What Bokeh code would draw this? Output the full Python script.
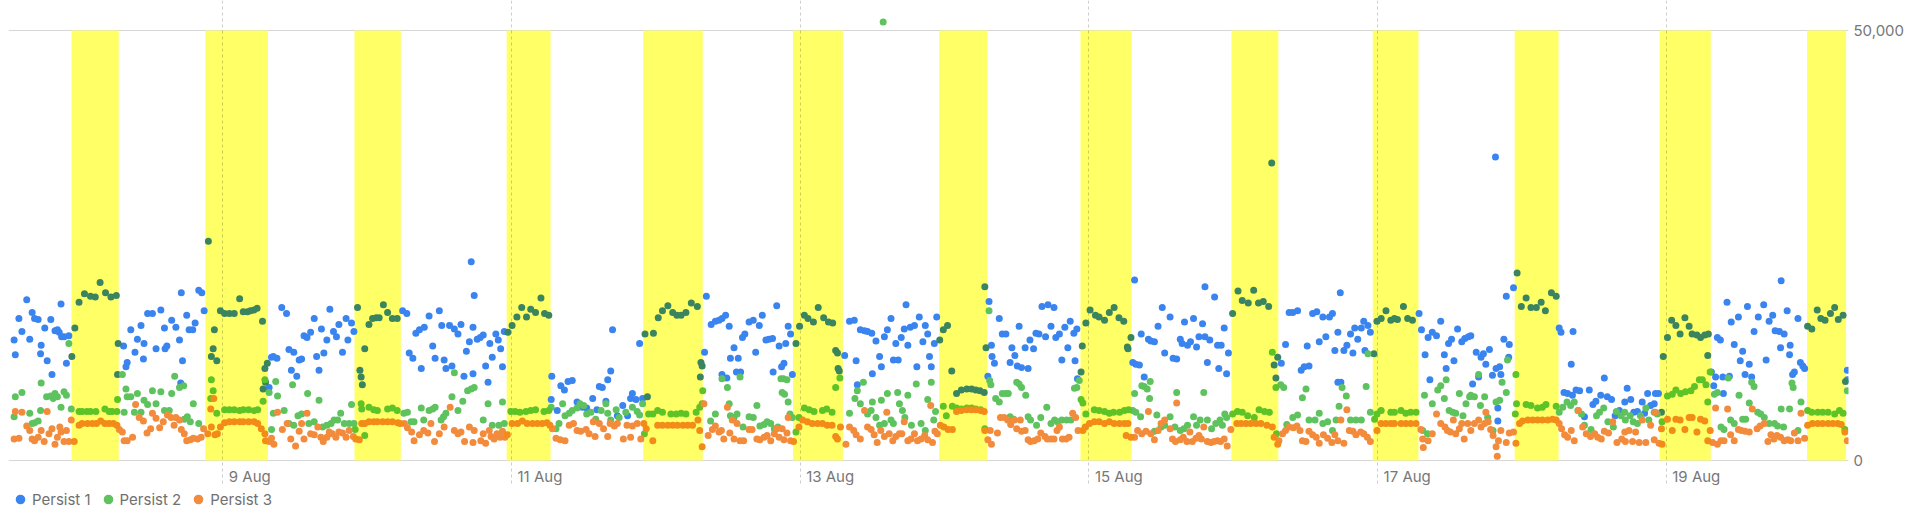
import pandas as pd
from bokeh.plotting import figure
from bokeh.models import Range1d, FixedTicker, NumeralTickFormatter, Legend, LegendItem
from bokeh.core.properties import value
from bokeh.embed import file_html
from bokeh.resources import INLINE

# ---------------- data ----------------
first_reading = "2024-08-07 13:12"   # time of the first sample
window_hours = 305.1                   # time span from first sample to right edge, hours

series_names = ["Persist 1", "Persist 2", "Persist 3"]
series_colors = ["#3a84f0", "#5ec35e", "#f28b3c"]
band_color = "#ffff66"

band_starts = ["2024-08-07 22:51", "2024-08-08 21:06", "2024-08-09 21:54", "2024-08-10 23:12",
               "2024-08-11 21:54", "2024-08-12 22:48", "2024-08-13 23:06", "2024-08-14 22:36",
               "2024-08-15 23:42", "2024-08-16 23:12", "2024-08-17 22:48", "2024-08-18 22:54",
               "2024-08-19 23:24"]
band_ends = ["2024-08-08 06:42", "2024-08-09 07:30", "2024-08-10 05:36", "2024-08-11 06:30",
             "2024-08-12 07:48", "2024-08-13 07:06", "2024-08-14 07:06", "2024-08-15 07:06",
             "2024-08-16 07:30", "2024-08-17 06:48", "2024-08-18 06:06", "2024-08-19 07:24",
             "2024-08-20 05:54"]

tick_dates = ["2024-08-09", "2024-08-11", "2024-08-13", "2024-08-15", "2024-08-17", "2024-08-19"]
tick_labels = ["9 Aug", "11 Aug", "13 Aug", "15 Aug", "17 Aug", "19 Aug"]
y_ticks = [0, 50000]

# (hours since first sample, value)
persist1 = [
(0.1,14000),(0.3,12300),(0.9,16500),(1.4,15000),(2.2,18700),(2.7,14100),(3.1,17200),(3.5,16500),(4.1,16400),(4.5,12400),(4.6,13400),(5.2,15400),(5.6,11600),(6.2,16400),(6.4,10000),(6.9,15100),(7.3,15200),(7.6,14900),(7.9,18200),(8.0,14400),(8.4,14400),(8.8,11300),(9.2,14500),(9.7,12100),(10.2,15400),(10.9,18400),(11.8,19400),(12.8,19100),(13.6,19000),(14.4,20700),(15.3,19500),(16.2,19000),(17.1,19200),(17.3,10000),(17.4,13600),
(18.3,13300),(18.7,10900),(18.9,11400),(19.5,15200),(20.2,12600),(20.6,14100),(21.2,15700),(21.6,11800),(21.7,13600),(22.3,17100),(23.1,17100),(23.7,13000),(24.5,17500),(25.1,15400),(25.2,13000),(25.5,13300),(26.3,16300),(27.0,15500),(27.6,14000),(27.8,9000),(27.9,19500),(28.1,11600),(28.8,16900),(29.2,15200),(29.8,15200),(30.2,16000),(30.8,19800),(31.3,19500),(31.7,17400),
(32.4,25500),(32.9,12100),(33.2,13000),(33.4,15200),(33.8,11600),(34.4,17400),(35.1,17100),(35.9,17100),(36.7,17100),(37.6,18800),(38.2,17300),(38.9,17300),(39.4,17400),(40.0,17500),(40.5,17700),(41.4,16200),(41.5,8300),(41.8,10700),(41.9,9100),(42.2,11300),
(42.5,8500),(42.9,12000),(43.2,12100),(43.8,11900),(44.6,17800),(45.4,17100),(45.8,12900),(46.2,10500),(46.6,12600),(47.1,9800),(47.5,11700),(47.9,11800),(48.3,14500),(48.8,14300),(49.4,14900),(50.0,16500),(50.4,12100),(50.8,10500),(51.2,15300),(51.6,12500),(52.1,14000),(52.6,17600),(53.2,15000),(53.7,14400),(54.1,15800),(54.7,12600),(55.3,16500),(55.6,14000),(56.2,16000),(56.6,15000),
(57.2,17800),(57.6,10500),(57.8,9700),(58.0,8800),(58.4,13000),(59.1,15800),(59.7,16500),(60.3,16600),(60.8,16600),(61.5,18100),(62.2,17200),(63.0,16500),(63.8,16500),
(64.7,17400),(65.4,17100),(65.8,12500),(66.4,11900),(66.9,14800),(67.5,15200),(67.8,10700),(68.3,15500),(69.1,16800),(69.7,13300),(70.1,11900),(70.8,17400),(71.2,15700),(71.6,11700),(71.9,10700),(72.5,15700),(72.9,11000),(73.3,15300),(73.9,14700),(74.4,15800),(74.9,9800),(75.3,12700),(75.8,13800),(76.1,23100),(76.4,15500),(76.4,10100),(76.6,19200),
(77.1,14100),(77.6,14300),(78.1,14600),(78.5,11000),(78.9,9100),(79.2,13600),(79.6,12000),(80.2,14700),(80.6,14000),(81.0,13000),(81.3,10900),(81.6,15000),
(82.2,14900),(82.9,15700),(83.7,16700),(84.5,17800),(85.3,16700),(86.0,17600),(86.8,17200),(87.7,18900),(88.3,17100),(89.0,16900),
(89.4,7100),(89.5,9800),(90.4,5800),(91.0,8700),(91.6,8200),(92.2,9200),(92.9,9300),(93.7,6800),(94.6,6200),(95.3,6100),(96.3,7200),(97.0,5900),(97.4,8600),(97.9,8500),(98.5,6900),(98.8,9400),(99.3,10400),(99.6,15200),(100.4,5200),(101.3,6400),(102.1,5200),(102.6,7200),(102.9,7800),(103.5,7100),(104.1,13600),(104.6,7200),
(105.0,14700),(105.4,7400),(106.4,14800),(107.2,16600),(107.9,17400),(108.8,18000),(109.6,17200),(110.3,16900),(111.0,16900),(111.8,17200),(112.7,18300),(113.7,17900),(114.2,9700),(114.3,11400),(114.5,11000),
(114.9,12600),(115.2,19100),(116.0,15800),(116.7,16200),(117.3,16300),(117.8,16500),(117.8,10000),(118.4,16900),(118.6,9600),(119.0,15600),(119.2,11900),(119.8,13100),(120.2,10300),(120.5,11900),(120.9,10300),(121.2,14300),(121.6,14700),(122.3,16100),(123.0,16300),(123.4,12600),(124.0,15700),(124.5,16900),(125.1,14000),(125.6,14100),(126.2,14200),(126.3,10300),(126.9,18000),(127.3,13300),(127.7,10900),(128.1,11300),(128.4,13600),(128.8,15600),(129.2,14700),(129.5,10000),
(130.1,13600),(130.7,15600),(131.5,16900),(132.1,16500),(133.0,16100),(133.8,17800),(134.7,16600),(135.5,16100),(136.2,16000),(136.7,12800),(137.0,12500),(137.1,10700),(137.3,10400),
(138.2,12200),(139.0,16200),(139.8,16300),(140.1,11600),(140.3,8800),(140.8,15200),(141.5,15100),(142.0,15000),(142.7,14800),(142.8,10100),(143.4,13900),(144.0,12100),(144.3,10900),(144.8,14400),(145.3,15200),(145.9,16500),(146.3,11700),(146.7,13600),(147.1,11700),(147.6,14300),(148.1,15300),(148.4,18100),(148.7,13400),(149.1,15500),(149.8,15700),(150.2,10900),(150.6,16700),(151.2,13800),(151.6,15700),(152.0,14700),(152.3,12100),(152.6,10900),(153.1,13600),(153.5,16700),
(154.0,14000),(154.6,15200),(155.3,15700),(156.0,10400),(156.8,7800),(157.6,8200),(158.5,8300),(159.3,8300),(160.0,8200),(160.7,8100),(161.4,7900),(161.5,20200),(161.7,13100),
(162.0,9800),(162.2,18500),(162.6,13400),(162.7,12100),(163.1,11300),(163.9,16500),(164.4,14700),(165.0,14700),(165.7,11400),(166.0,13100),(166.5,12200),(166.9,11000),(167.2,15600),(167.6,10800),(168.2,13100),(168.7,10700),(169.0,14000),(169.6,13000),(170.0,14800),(170.5,14700),(171.0,17900),(171.6,14400),(172.0,18100),(172.5,15600),(173.0,17800),(173.3,14300),(173.9,14700),(174.3,11700),(174.8,15500),(175.3,13100),(175.7,16200),(176.3,14800),(176.5,11600),(176.8,15300),(176.9,9500),
(177.5,10300),(177.7,13300),(178.3,16000),(179.0,17500),(179.9,16900),(180.5,16700),(181.4,16300),(182.2,17200),(183.0,17800),(183.8,16600),(184.6,16200),(185.2,13200),(185.3,13000),(185.8,14300),
(186.1,11400),(186.4,21000),(186.6,11200),(187.2,11100),(187.5,14700),(188.0,9700),(188.7,14100),(189.1,13900),(189.7,13800),(190.3,15600),(191.0,17800),(191.4,12500),(192.3,16700),(192.8,11900),(193.4,11800),(194.0,14100),(194.3,13600),(194.7,16100),(195.2,13400),(195.7,13800),(196.2,16500),(196.7,13200),(197.1,14400),(197.7,15900),(198.1,20200),(198.1,14400),(198.5,11400),(198.9,14000),(199.7,19000),(200.2,13400),(200.4,10700),(200.8,13400),(201.3,15400),(201.7,10100),(202.0,12500),
(202.7,17100),(203.6,19700),(204.3,18600),(205.3,18300),(206.2,19800),(207.0,18300),(207.8,18500),(208.7,17900),(209.2,34600),(209.6,11100),(209.9,9600),(210.2,12000),
(210.8,11300),(211.5,13500),(212.1,17200),(212.7,17200),(213.5,17400),(214.1,10500),(214.6,10900),(215.1,13300),(215.4,11000),(216.0,17100),(216.7,17300),(217.1,13800),(217.7,16700),(218.2,14400),(218.8,16700),(219.3,17100),(219.7,12800),(220.2,14900),(220.2,9100),(220.6,19500),(220.7,9100),(221.2,12800),(221.7,13400),(222.3,14700),(222.7,12500),(223.0,15400),(223.5,14100),(224.1,15400),(224.5,16200),(224.7,12800),(225.2,15700),(225.6,14900),
(226.2,12400),(226.7,16200),(227.4,16500),(228.2,17400),(229.0,16300),(229.6,16500),(230.1,16400),(231.1,17900),(231.8,16500),(232.6,16300),
(233.7,17100),(234.1,15200),(234.7,12300),(235.2,14300),(235.5,9400),(235.9,14900),(236.6,14500),(237.3,16200),(237.9,12300),(238.2,10700),(238.6,13600),(239.1,14100),(239.5,11600),(240.1,15300),(240.8,13800),(241.3,14200),(241.9,14400),(242.3,14500),(242.6,8900),(243.2,12600),(243.6,9700),(244.0,12000),(244.4,12400),(244.8,11200),(245.4,12900),(245.9,9900),(246.4,35300),(246.5,10700),(246.8,6100),(246.8,4600),(247.1,10900),(247.3,10000),(247.8,14100),(248.2,19100),(248.6,12000),(248.7,13500),(249.4,20100),
(250.0,21800),(250.7,17900),(251.5,18900),(252.3,17800),(253.2,17800),(254.0,18400),(254.7,17400),(255.7,19500),(256.5,19100),
(257.0,15400),(257.3,14900),(257.8,7900),(258.4,7800),(259.0,11200),(259.2,7600),(259.3,15000),(259.8,8200),(260.4,8100),(261.2,5100),(262.0,8200),(262.6,6500),(263.1,6900),(263.9,7600),(264.5,9600),(265.0,7400),(265.7,7100),(266.3,5200),(267.0,5800),(267.9,6800),(268.3,8400),(268.9,7100),(269.4,5600),(270.0,5700),(270.8,6800),(271.2,5500),(271.7,7800),(272.2,6400),(272.8,6600),(273.0,7800),(273.5,7800),
(274.0,5600),(274.3,12100),(275.0,14300),(275.7,16300),(276.4,15700),(277.1,14700),(277.9,16600),(278.6,15600),(279.1,14700),(279.9,14600),(280.5,14300),(281.2,14600),(281.7,12200),(281.8,14700),
(282.3,10300),(282.7,8700),(283.0,9700),(283.3,14300),(283.8,14000),(284.2,9700),(284.3,7800),(284.9,18400),(285.3,9800),(285.6,16100),(286.1,13500),(286.8,16700),(287.1,11600),(287.5,12700),(287.9,10000),(288.3,17900),(288.6,11200),(289.0,9700),(289.4,15000),(290.1,16700),(291.0,18100),(291.4,11700),(291.9,16200),(292.5,16900),(292.9,15100),(293.6,15000),(293.8,13100),(293.9,20900),(294.4,14700),(294.9,17400),(295.3,12300),(295.4,13400),(295.8,10000),(296.1,10300),(296.7,16500),(297.1,11400),(297.5,11000),(297.8,10700),
(298.3,15600),(299.0,15300),(299.9,17500),(300.5,16500),(301.2,16300),(302.1,17100),(302.8,17800),(303.4,16400),(304.2,16900),(304.6,9200),(304.9,9400),(304.9,10500),
]

persist2 = [
(0.1,5100),(0.3,7400),(1.4,7900),(2.7,5500),(3.1,4300),(3.5,4400),(4.1,4600),(4.5,5800),(4.6,9000),(5.5,7400),(6.2,7500),(6.6,7200),(6.9,7800),(7.3,7400),(7.9,6200),(8.4,8000),(8.8,7600),(9.2,13600),(9.6,6000),
(10.9,5700),(11.4,5700),(12.2,5700),(12.8,5700),(13.7,5700),(15.2,6000),(15.9,5700),(16.4,5700),(17.2,5700),(17.3,7100),
(18.1,10000),(18.4,5600),(18.7,8300),(18.9,7400),(19.5,7400),(20.1,5600),(20.6,7800),(21.2,5600),(21.7,7000),(22.3,6500),(23.1,8100),(23.7,6600),(24.5,8000),(25.1,5800),(25.9,5800),(26.3,7800),(26.8,9800),(27.6,8500),(28.3,8700),(28.4,4800),(28.9,5100),(29.4,4500),(29.9,6600),(30.8,4300),
(32.8,7200),(32.9,9400),(33.2,8100),(33.8,5500),(35.1,5900),(35.9,5900),(36.7,5900),(37.6,5800),(38.2,5900),(39.1,5900),(40.0,5800),(40.6,5900),(41.5,6900),(41.8,9400),
(42.5,7900),(42.9,3600),(43.2,5500),(43.6,9200),(43.9,7500),(45.0,5800),(45.8,4300),(46.4,8800),(46.6,4100),(47.3,5200),(47.9,5400),(48.9,7800),(49.1,4300),(50.0,4500),(50.8,7000),(51.4,3900),(52.1,4100),(52.8,4300),(53.3,4700),(53.9,4700),(54.4,5500),(55.0,4300),(55.8,4300),(56.2,6500),(56.6,4300),
(56.8,3600),(57.8,6600),(57.9,6000),(58.4,2900),(59.1,6200),(59.9,5900),(60.5,5800),(62.2,6000),(63.0,6100),(63.8,5800),
(64.9,5500),(65.5,5600),(66.1,4500),(66.6,4500),(67.8,6100),(68.2,4700),(69.1,5800),(69.7,6000),(70.1,6200),(71.1,4700),(71.5,5100),(71.9,5500),(72.9,7400),(73.3,10200),(73.9,5800),(74.7,6900),(75.5,8100),(76.1,8300),(76.6,8500),
(78.1,4700),(78.9,6600),(79.6,4100),(80.7,4100),(81.3,6800),(81.6,4300),
(82.7,5700),(83.4,5700),(84.2,5600),(85.2,5700),(86.0,5800),(86.8,5900),(88.2,5700),(89.0,5800),
(89.4,6200),(90.2,3700),(90.7,4300),(91.3,6600),(91.7,5200),(92.4,5500),(92.9,5800),(93.7,6100),(94.2,6600),(94.8,6400),(95.3,5400),(96.0,5600),(96.8,4800),(97.7,5800),(98.5,6600),(98.8,5500),(99.3,4700),(100.2,5900),(100.7,5000),(101.8,5600),(102.9,6200),(103.7,5700),(104.1,5300),(104.6,6600),
(104.9,3100),(105.6,5400),(106.3,5400),(107.1,5800),(107.9,5600),(109.3,5400),(110.2,5400),(111.0,5500),(111.8,5400),(113.5,5600),(114.1,6200),(114.5,6600),(114.6,8100),
(115.9,4600),(116.7,5400),(117.8,9500),(118.7,8500),(119.0,6600),(119.2,5200),(119.8,5000),(120.3,5400),(120.8,9700),(121.3,3900),(122.3,5100),(123.0,5000),(123.6,6400),(124.1,4000),(124.8,4200),(125.3,4500),(125.9,4300),(126.5,3700),(127.1,3900),(127.6,9500),(127.8,7900),(128.0,9500),(128.2,7700),(128.6,9400),(128.8,6800),(129.1,5400),(129.5,5000),
(130.1,3300),(130.6,5000),(131.5,6100),(132.3,5900),(133.1,5700),(134.5,5800),(135.2,6000),(136.1,5600),(136.7,8500),(137.4,9600),
(139.0,5500),(139.9,7200),(140.3,8100),(140.8,6600),(141.3,9100),(142.0,5400),(142.6,5800),(142.8,6800),(143.4,5000),(144.0,4100),(144.3,7000),(144.6,51000),(144.8,4300),(145.3,7800),(145.9,4700),(146.3,4300),(147.0,7900),(147.3,6600),(147.8,5800),(148.2,5000),(148.7,7600),(149.3,4100),(150.1,8900),(150.9,4300),(151.6,3500),(152.0,7100),(152.6,9100),(153.0,4700),(153.3,5700),
(154.6,6300),(155.1,5200),(156.1,6300),(156.8,6100),(157.6,6000),(158.5,6100),(159.3,6100),(160.0,6000),(160.8,5900),(161.5,3700),
(162.2,17400),(162.3,9300),(162.5,8800),(163.3,7200),(163.9,6800),(164.4,7800),(165.0,7800),(165.4,7800),(165.7,5100),(166.3,4800),(166.8,9100),(167.2,8900),(167.6,8500),(168.3,7600),(168.7,5100),(169.1,4700),(170.1,4100),(170.8,5000),(171.8,6200),(172.5,4300),(173.1,4700),(173.6,4500),(174.3,4700),(175.1,4700),(175.8,4700),(176.4,8400),(176.8,8500),(177.2,9300),
(177.5,7100),(177.8,6700),(178.3,5400),(179.7,5900),(180.5,5800),(181.4,5700),(182.2,5500),(182.9,5600),(183.9,5600),(184.7,5800),(185.4,5900),
(186.1,5800),(186.4,7800),(186.6,5600),(187.4,5100),(187.6,8700),(188.0,8600),(188.5,8300),(188.9,7200),(189.0,9200),(189.7,3400),(190.1,5300),(190.8,3900),(191.4,4100),(192.3,5100),(193.1,3900),(193.4,7900),(194.0,3500),(194.6,3700),(195.2,4100),(196.2,5100),(196.7,4100),(197.3,4700),(197.9,7900),(198.5,4700),(199.2,3700),(199.9,4300),(200.6,4700),(201.0,4100),(201.4,5400),(201.7,5000),
(202.7,5400),(203.5,5700),(204.3,5600),(205.2,5200),(206.3,5000),(207.1,5900),(208.0,5700),(208.8,5600),(209.3,12600),(209.9,8500),(210.0,3100),
(210.7,8800),(211.2,8500),(211.7,4200),(212.7,5000),(213.5,5300),(214.3,7300),(214.9,8300),(215.4,4700),(216.4,4700),(217.1,5500),(217.7,4300),(218.5,4500),(219.3,3500),(219.9,4700),(220.4,6300),(220.9,8500),(221.6,7500),(222.3,4700),(223.2,4700),(224.1,4700),(224.9,8600),(225.2,12400),(225.6,5600),
(226.3,4800),(226.7,5400),(227.4,5800),(229.0,5600),(229.6,5600),(230.7,5800),(231.5,5500),(232.3,5600),(233.2,5600),
(234.3,3500),(234.6,7600),(235.1,3100),(235.9,6600),(236.8,8200),(237.3,8700),(237.9,7200),(238.2,9400),(238.7,5800),(239.3,5600),(239.8,5500),(240.4,7800),(241.0,5200),(241.5,6600),(242.1,7400),(242.3,7600),(242.9,7400),(243.6,10000),(243.9,6400),(244.6,7400),(245.1,5000),(246.0,3500),(246.5,6800),(247.1,7000),(247.5,9100),(248.2,7900),(248.4,11700),
(249.7,5400),(249.8,10000),(249.9,6600),(251.5,6500),(252.3,6400),(253.4,6100),(254.2,6200),(254.8,6500),(256.5,6300),
(257.0,5600),(257.6,6200),(258.3,6800),(258.9,6400),(259.5,6800),(260.1,5800),(260.7,5400),(261.2,4100),(262.3,3600),(263.2,5200),(263.7,5600),(264.4,6100),(265.1,4500),(266.0,3900),(266.5,5700),(267.3,5200),(267.9,5600),(268.0,4700),(268.8,5200),(269.3,4500),(270.0,4300),(270.5,5200),(271.4,6100),(271.9,4700),(272.8,5600),(273.3,5400),
(274.1,4500),(275.0,7500),(275.8,7700),(276.4,8200),(277.2,7800),(278.0,8000),(278.9,8100),(279.5,8600),(280.3,9400),(280.8,9400),(281.4,8800),(281.7,6800),(282.1,10300),
(282.8,7700),(283.3,7900),(283.9,3900),(284.4,3600),(285.1,9600),(285.5,4700),(286.1,4300),(286.9,7600),(287.5,4800),(288.0,4800),(288.6,6700),(289.0,9100),(289.4,8600),(290.0,5600),(290.5,5400),(291.1,5000),(291.9,4300),(292.8,4300),(293.3,4000),(293.9,6000),(294.3,3900),(295.3,6000),(295.7,9000),(295.9,8500),(296.7,3500),(297.2,6800),
(298.3,5800),(299.0,5600),(300.0,5600),(300.8,5600),(301.7,5600),(302.8,5400),(303.6,5800),(304.2,5500),(304.5,3600),(304.9,8100),
]

persist3 = [
(0.1,2500),(0.3,5700),(0.9,2600),(1.4,5600),(2.2,4000),(2.7,3500),(3.1,2500),(3.5,2300),(4.1,2700),(4.6,3500),(5.1,2200),(5.6,5700),(5.9,3100),(6.4,3700),(6.9,1900),(7.3,2700),(7.7,3900),(7.9,3300),(8.4,2200),(8.8,3500),(9.2,2200),(9.6,4700),
(10.1,2200),(10.9,4100),(11.4,4300),(12.3,4300),(13.1,4300),(13.8,4300),(14.5,4600),(15.2,4300),(15.9,4300),(16.6,4300),(17.2,4100),
(17.6,3600),(18.1,3300),(18.4,2300),(18.9,2300),(19.8,2700),(20.3,6500),(20.9,5000),(21.6,4600),(22.2,3200),(22.8,3700),(23.1,5500),(23.7,4900),(24.3,3800),(24.9,4500),(25.6,5300),(26.2,5000),(26.7,4100),(27.0,5000),(27.6,4700),(27.9,3600),(28.4,3100),(28.8,2300),(29.4,2400),(29.9,2600),(30.6,2500),(31.2,2700),(31.6,3700),
(32.3,3100),(32.8,6000),(32.9,3900),(33.3,7200),(33.5,3000),(33.9,3100),(34.4,3900),(35.1,4400),(35.9,4500),(36.7,4500),(37.6,4500),(38.2,4500),(39.1,4500),(40.0,4500),(40.6,4300),(41.2,3700),(41.8,3100),(41.9,2300),
(42.5,2200),(42.9,2600),(43.3,1900),(43.9,5600),(44.7,3600),(45.5,4300),(46.1,2500),(46.9,1700),(47.5,3400),(47.9,4300),(48.3,2500),(48.8,5500),(49.4,3100),(50.0,3000),(50.6,3900),(51.1,2700),(51.5,2200),(52.1,2700),(52.5,3300),(53.0,3100),(53.6,2700),(54.1,3300),(54.7,3200),(55.3,2700),(55.8,3500),(56.5,2800),
(56.9,2500),(57.5,2400),(57.9,4300),(58.4,4300),(59.1,4500),(59.9,4500),(60.5,4500),(61.4,4500),(62.2,4500),(63.0,4500),(63.9,4400),(64.3,4300),
(65.0,4300),(65.5,3800),(66.2,3300),(66.6,2300),(67.5,3000),(68.2,3500),(68.9,3200),(69.4,4300),(70.0,2200),(70.8,3100),(71.6,3900),(72.6,6200),(73.3,3500),(73.9,3100),(74.4,3300),(75.0,2200),(75.8,3900),(76.4,2100),(76.6,3500),(77.7,2300),(78.1,3100),(78.5,2000),(79.1,3500),(79.4,2800),(79.9,2500),(80.4,3100),(80.9,2700),(81.3,3400),(81.7,2700),
(82.1,3000),(82.9,4300),(83.8,4300),(84.6,4600),(85.4,4300),(86.3,4300),(87.1,4300),(87.9,4300),(88.7,4400),(89.2,4100),
(89.6,3700),(90.2,2600),(90.9,2400),(91.7,2300),(92.4,4100),(93.1,4300),(93.7,3500),(94.3,3400),(95.2,3600),(95.7,3100),(96.4,4500),(96.7,2800),(97.4,4300),(98.1,3700),(98.8,2800),(99.2,4300),(99.9,4000),(100.4,4300),(101.4,2500),(102.0,4100),(102.6,2700),(102.9,4000),(103.7,4300),(104.3,2500),
(104.8,4300),(105.2,3700),(106.3,2300),(107.1,4100),(107.9,4100),(108.8,4100),(109.6,4100),(110.4,4100),(111.3,4100),(112.1,4100),(112.9,4100),(113.8,4700),(114.1,3500),(114.5,1600),
(114.8,6600),(115.5,2900),(116.2,3600),(116.7,4000),(117.3,3300),(117.7,3500),(118.1,2500),(118.7,6200),(119.1,3200),(119.5,4700),(119.8,2500),(120.3,4300),(120.8,2300),(121.4,2300),(122.3,3600),(122.8,3600),(123.6,2500),(124.1,2400),(124.8,2700),(125.3,2900),(125.9,2300),(126.5,3100),(126.9,3700),(127.3,2700),(127.8,3700),(128.1,2400),(128.6,3200),(128.8,5000),(129.2,2300),
(129.7,2200),(130.6,3900),(131.2,4700),(132.0,4500),(132.8,4300),(133.7,4300),(134.5,4300),(135.3,4100),(136.1,4100),(136.7,2800),(137.0,2500),(137.5,3900),
(138.4,1900),(139.0,3900),(139.7,3500),(140.1,3000),(140.8,2500),(141.5,5800),(142.0,3900),(142.6,3600),(143.1,3000),(143.6,2100),(144.2,3500),(144.8,2800),(145.2,5600),(145.6,3100),(146.2,2300),(146.7,2800),(147.3,3100),(147.7,3100),(148.1,4500),(148.7,2300),(149.2,2500),(149.8,3100),(150.3,2300),(150.9,2500),(151.5,2900),(152.0,2400),(152.5,6400),(152.8,2100),(153.2,3400),(153.6,3100),
(154.1,4100),(154.7,3900),(155.4,3600),(156.1,3600),(156.8,5700),(157.6,5800),(158.5,5900),(159.3,5900),(160.0,5900),(160.8,5800),(161.4,5700),(161.5,3500),
(162.0,2400),(162.4,3500),(162.6,1900),(163.6,3200),(164.1,5000),(164.7,5000),(165.3,4700),(165.8,4200),(166.4,4700),(166.8,3700),(167.4,4700),(167.6,3400),(168.2,3500),(168.7,2400),(169.1,2200),(169.7,2300),(170.3,2500),(170.8,3200),(171.5,2800),(171.9,2500),(172.5,2500),(173.0,2500),(173.5,3500),(173.9,3900),(174.4,2500),(175.0,2500),(175.5,2700),(176.1,5500),(176.6,5000),(177.0,3500),
(177.8,3500),(178.2,3900),(178.9,4300),(179.7,4500),(180.5,4500),(181.4,4300),(182.2,4500),(183.0,4300),(183.9,4300),(184.7,4300),(185.0,2900),(185.3,4300),(185.8,2700),
(186.4,2700),(186.9,3500),(187.6,3100),(188.3,3400),(188.7,5700),(189.1,3100),(189.7,2400),(190.3,3500),(190.8,4300),(191.4,4700),(192.3,3700),(192.7,2500),(193.2,2200),(193.4,6700),(194.0,2400),(194.5,2700),(195.1,2200),(195.6,3300),(196.0,2200),(196.6,2600),(197.1,2900),(197.5,2500),(197.9,3900),(198.5,2200),(199.1,2100),(199.6,2200),(200.2,2300),(200.7,2200),(201.3,2500),(201.8,1700),(202.4,3600),
(203.4,4300),(204.1,4300),(204.9,4300),(205.7,4300),(206.6,4300),(207.4,4300),(208.4,4100),(209.3,3900),(209.6,2700),(210.2,1900),
(210.4,2300),(211.0,3100),(211.5,3500),(212.1,3900),(212.8,3800),(213.4,4000),(213.9,3500),(214.3,2300),(214.9,2200),(215.4,3400),(216.0,3000),(216.6,2700),(217.1,2000),(217.8,3000),(218.5,2600),(219.2,2100),(219.7,3000),(220.2,2300),(220.7,4700),(221.2,2000),(221.7,5900),(222.1,3500),(222.7,3400),(223.2,3000),(224.0,3300),(224.5,3100),(225.1,2700),(225.6,2200),
(226.7,3500),(227.4,4300),(228.2,4300),(229.0,4300),(229.6,4300),(230.7,4300),(231.5,4300),(232.3,4300),(233.2,4300),
(234.0,3600),(234.3,2500),(234.4,1500),(235.2,2300),(235.9,3100),(236.6,5400),(237.3,4300),(238.0,3900),(238.4,3500),(238.9,3300),(239.4,4700),(239.8,3100),(240.4,3700),(240.8,4300),(241.2,2500),(241.8,4300),(242.3,3500),(242.9,4300),(243.6,4700),(244.0,3900),(244.6,4300),(244.8,5600),(245.2,4500),(245.6,3600),(246.0,2900),(246.5,1600),(246.7,500),(246.9,2300),(247.3,3500),(248.2,2100),(248.7,3200),(249.4,3300),
(249.8,2000),(250.4,4300),(250.9,4600),(251.8,4700),(252.6,4700),(253.4,4700),(254.2,4700),(255.1,4700),(255.9,4800),(256.5,4700),
(257.0,4300),(257.4,3700),(257.9,3000),(258.4,2700),(259.0,3500),(259.5,2300),(260.2,5800),(260.9,3900),(261.5,3100),(262.2,2800),(262.9,3100),(263.4,2700),(264.0,2500),(264.5,3400),(265.2,3200),(265.9,4500),(266.6,2100),(267.4,2500),(267.9,3300),(268.0,2200),(268.6,3500),(269.2,2200),(269.7,3300),(270.3,2100),(270.8,4700),(271.4,2100),(272.2,4100),(272.8,2400),(273.0,5600),(273.6,2000),
(274.0,3700),(274.1,1900),(275.0,4800),(275.8,3500),(276.4,4800),(277.1,4700),(277.9,3600),(278.6,5000),(279.1,5000),(279.9,3300),(280.5,4800),(281.2,4600),(281.7,2300),(282.1,3500),
(282.5,2100),(283.0,6100),(283.3,1900),(283.9,2300),(284.4,2300),(285.0,6000),(285.5,3000),(286.1,2300),(286.8,3600),(287.3,3500),(287.9,3400),(288.6,3300),(289.1,6000),(289.9,3700),(290.4,4000),(291.1,4300),(291.7,2200),(292.2,3000),(292.7,2500),(293.2,2900),(293.8,2700),(294.4,2300),(295.0,2400),(295.5,2300),(296.1,3200),(296.7,2300),(297.2,5500),(297.8,2600),
(298.3,4100),(299.1,4300),(300.0,4300),(300.8,4300),(301.7,4300),(302.5,4300),(303.3,4300),(303.9,4200),(304.5,3300),(304.9,2300),
]

# ---------------- helpers ----------------
HOUR_MS = 3600 * 1000.0


def ms(ts):
    return pd.Timestamp(ts).value / 1e6


def multiply(c1, c2):
    a = [int(c1[i:i + 2], 16) for i in (1, 3, 5)]
    b = [int(c2[i:i + 2], 16) for i in (1, 3, 5)]
    return "#%02x%02x%02x" % tuple(round(x * y / 255) for x, y in zip(a, b))


t0 = ms(first_reading)
bands = list(zip([ms(s) for s in band_starts], [ms(e) for e in band_ends]))


def in_band(x):
    return any(s <= x <= e for s, e in bands)


# ---------------- layout ----------------
FONT = "Inter"
TEXT_SIZE = "15px"
TEXT_COLOR = "#777777"

frame_w, frame_h = 1840, 485
data_w = 1835                          # pixels covered by the data window
left_pad_ms = (frame_w - data_w) * window_hours * HOUR_MS / data_w
px_per_unit = 430 / 50000.0            # 50,000 spans 430 px
y_hi = 460 / px_per_unit               # room above 50,000 up to the top edge
y_lo = -25 / px_per_unit               # room below 0 for the day labels
x_label_y = -16 / px_per_unit

p = figure(frame_width=frame_w, frame_height=frame_h,
           x_range=Range1d(t0 - left_pad_ms, t0 + window_hours * HOUR_MS),
           y_range=Range1d(y_lo, y_hi),
           x_axis_type=None, y_axis_location="right",
           toolbar_location=None, output_backend="svg",
           min_border_left=8, min_border_right=4, min_border_top=0, min_border_bottom=0,
           outline_line_color=None, background_fill_color="white", border_fill_color="white")

ax = p.yaxis[0]
ax.ticker = FixedTicker(ticks=y_ticks)
ax.formatter = NumeralTickFormatter(format="0,0")
ax.axis_line_color = None
ax.major_tick_line_color = None
ax.minor_tick_line_color = None
ax.major_tick_out = 0
ax.major_tick_in = 0
ax.major_label_standoff = 5
ax.major_label_text_font = FONT
ax.major_label_text_font_size = TEXT_SIZE
ax.major_label_text_color = TEXT_COLOR

p.ygrid.grid_line_color = "#d6d6d6"
p.ygrid.grid_line_width = 1

# night bands
p.quad(left=[s for s, _ in bands], right=[e for _, e in bands],
       bottom=y_ticks[0], top=y_ticks[-1],
       fill_color=band_color, line_color=None)

# dashed day lines
tick_ms = [ms(d) for d in tick_dates]
p.vspan(x=tick_ms, line_color="black", line_alpha=0.2, line_dash="3 3", line_width=1)

# day labels
p.text(x=tick_ms, y=[x_label_y] * len(tick_ms), text=tick_labels,
       x_offset=6, text_align="left", text_baseline="middle",
       text_font=value(FONT), text_font_size=TEXT_SIZE, text_color=TEXT_COLOR)

legend_items = []
for name, color, data in zip(series_names, series_colors, [persist1, persist2, persist3]):
    xs = [t0 + h * HOUR_MS for h, _ in data]
    ys = [v for _, v in data]
    mask = [in_band(x) for x in xs]
    out_x = [x for x, m in zip(xs, mask) if not m]
    out_y = [y for y, m in zip(ys, mask) if not m]
    in_x = [x for x, m in zip(xs, mask) if m]
    in_y = [y for y, m in zip(ys, mask) if m]
    r_out = p.scatter(out_x, out_y, size=7, fill_color=color, line_color=None)
    p.scatter(in_x, in_y, size=7, fill_color=multiply(color, band_color), line_color=None)
    legend_items.append(LegendItem(label=name, renderers=[r_out]))

legend = Legend(items=legend_items, orientation="horizontal", location="top_left",
                glyph_width=24, glyph_height=28, label_standoff=0, spacing=5,
                padding=0, margin=0, border_line_color=None, background_fill_alpha=0,
                label_text_font=FONT, label_text_font_size=TEXT_SIZE,
                label_text_color="#707070")
p.add_layout(legend, "below")

open("out.html", "w").write(file_html(p, INLINE))
